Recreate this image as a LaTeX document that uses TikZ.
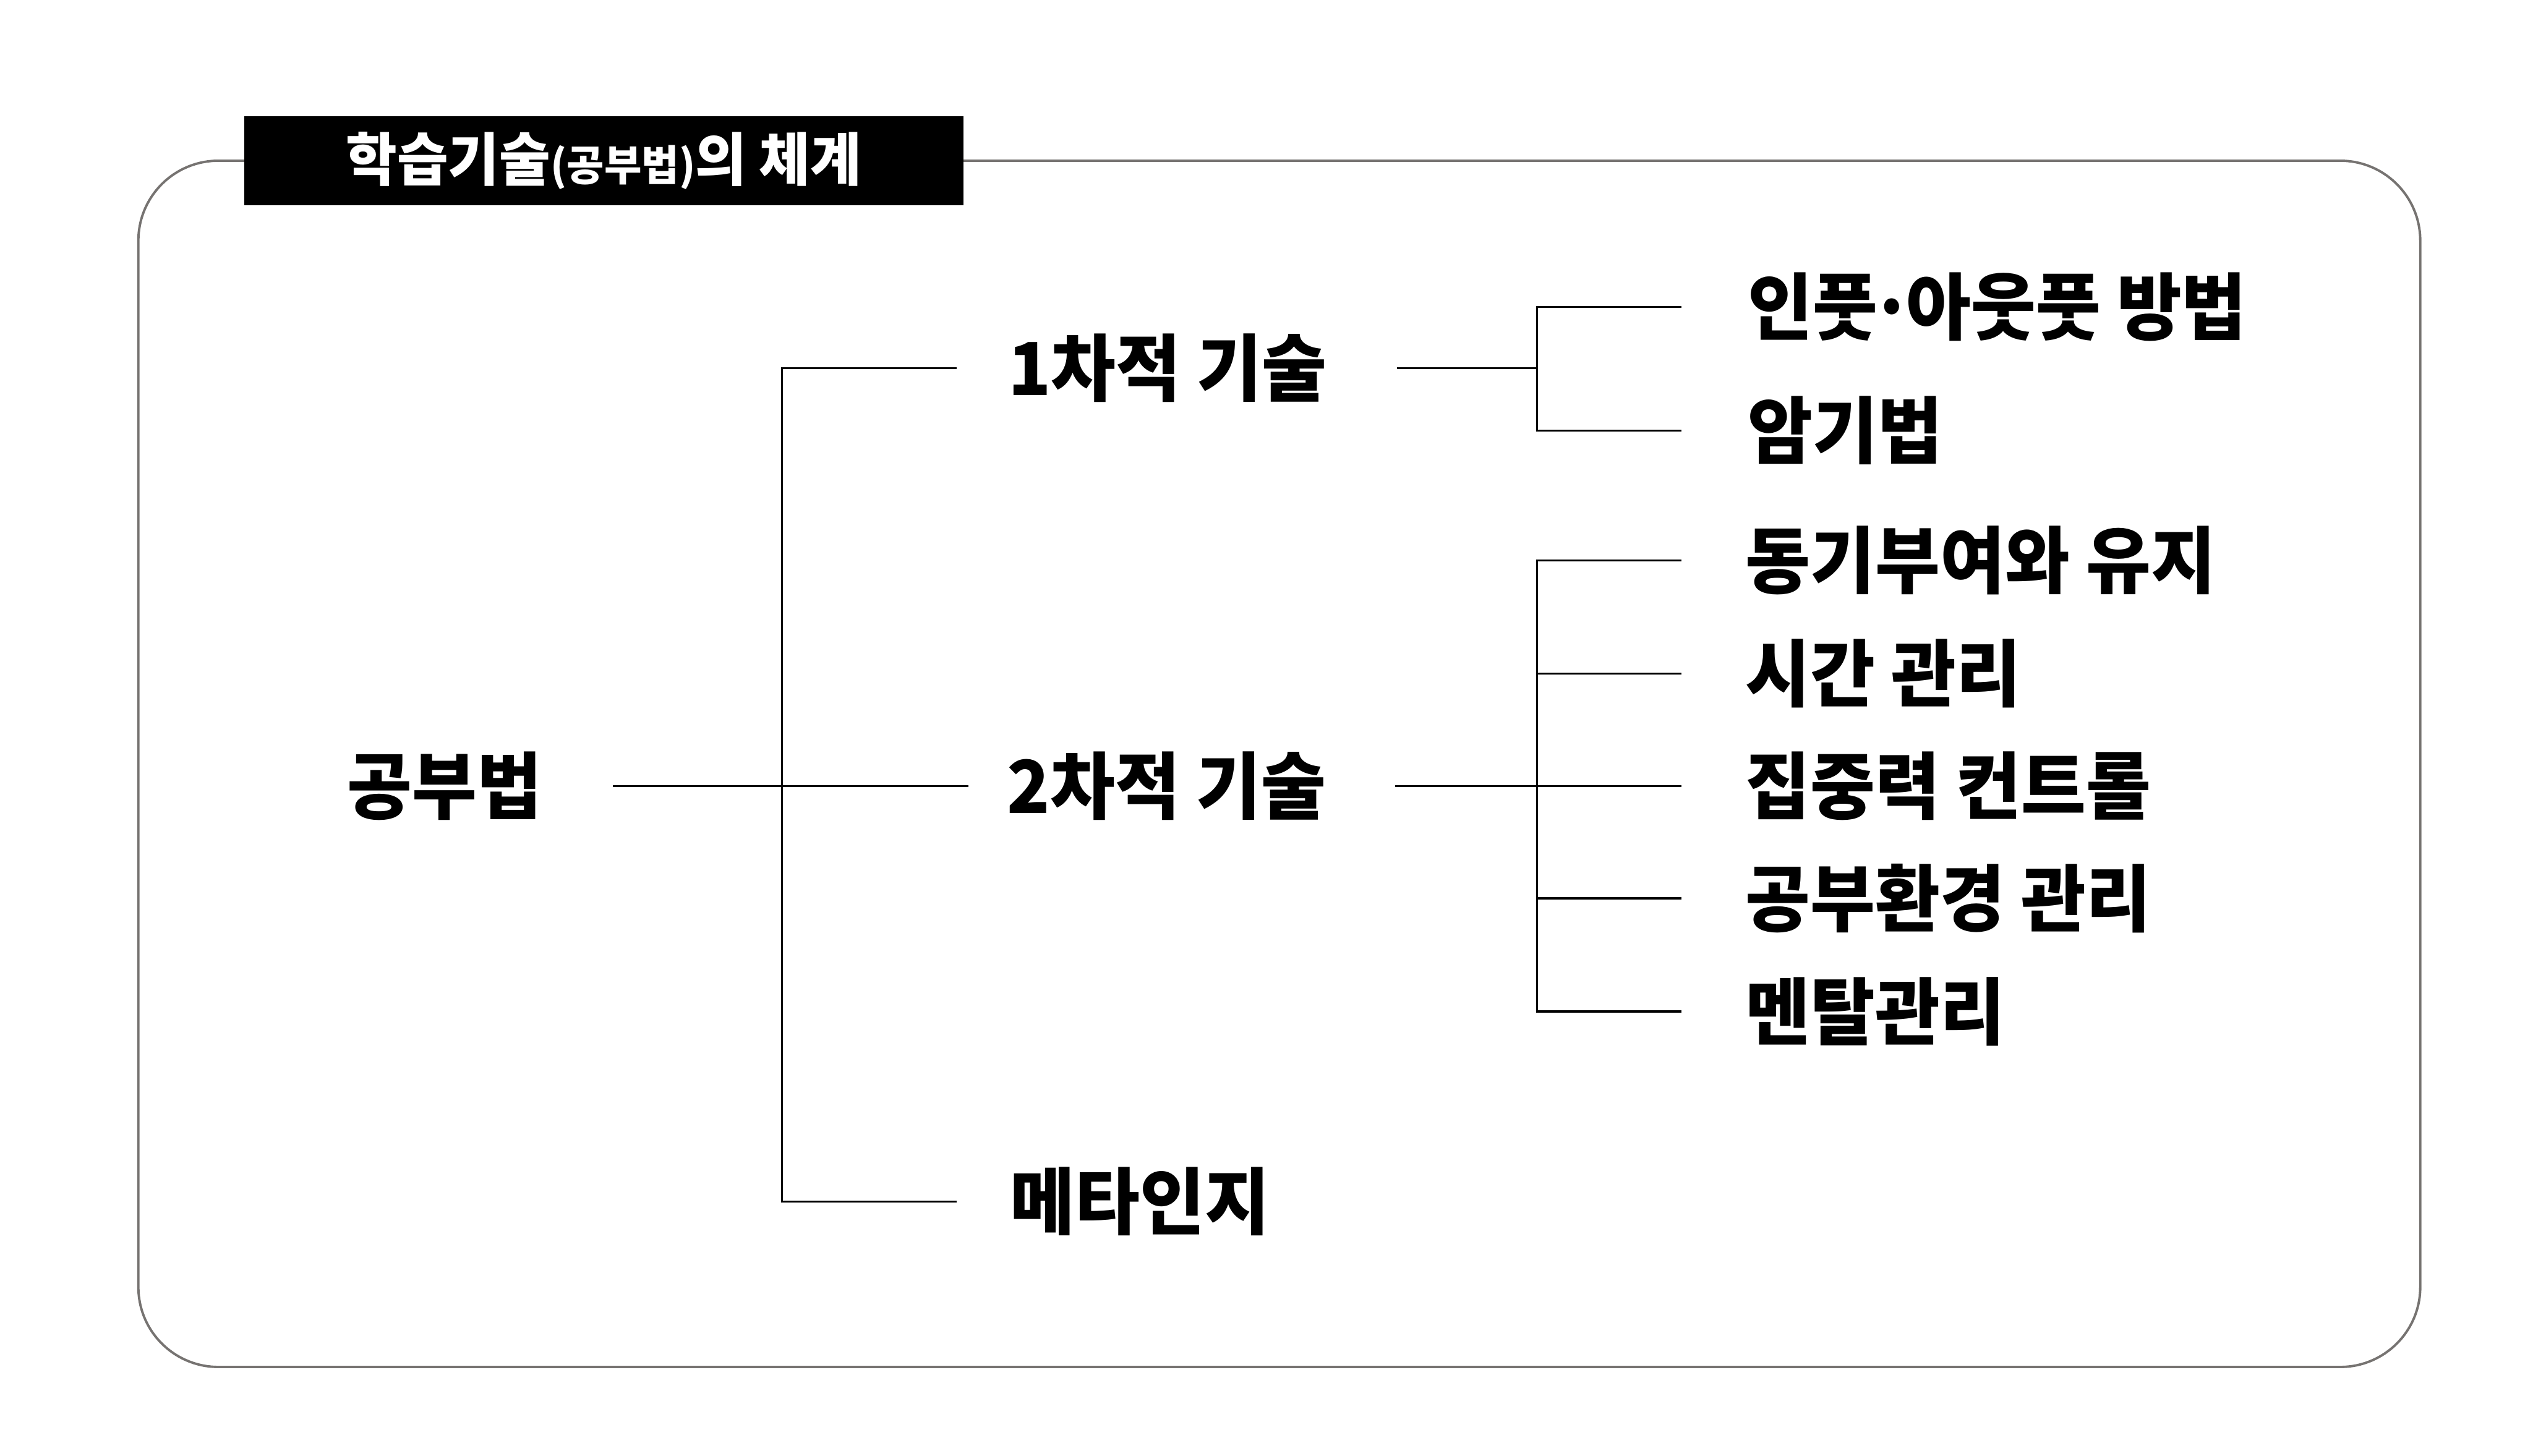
\documentclass[tikz,border=0pt]{standalone}
\usepackage{fontspec}
\setmainfont{Noto Sans CJK KR}[FakeStretch=0.965]
\usetikzlibrary{positioning}
\definecolor{framegray}{RGB}{118,115,113}

\begin{document}
\begin{tikzpicture}[label/.style={inner sep=0pt,anchor=west,font=\fontsize{52}{60}\selectfont\bfseries}, link/.style={line width=1.4pt}, frame/.style={draw=framegray,line width=1.7pt,rounded corners=2cm}]
  \useasboundingbox (0,0) rectangle (63.34,-36.41);
  \draw[frame] (3.46,-4.02) rectangle (60.52,-34.19);
  \node[fill=black,minimum width=17.98cm,minimum height=2.23cm,inner sep=0pt,text=white,font=\fontsize{41}{48}\selectfont\bfseries] (title) at (15.10,-4.025) {학습기술{\fontsize{30}{36}\selectfont(공부법)}의 체계};
  % tree
  \coordinate (trunk) at (19.56,-19.66);
  \coordinate (fork1) at (38.44,-9.21);
  \coordinate (fork2) at (38.44,-19.66);
  \node[label] (root) at (8.68,-19.66) {공부법};
  \node[label] (first) at (25.20,-9.21) {1차적 기술};
  \node[label] (second) at (25.18,-19.66) {2차적 기술};
  \node[label] (meta) at (25.25,-30.05) {메타인지};
  \node[label] (io) at (43.70,-7.68) {인풋\kern-.1em·\kern-.1em아웃풋 방법};
  \node[label] (memo) at (43.70,-10.77) {암기법};
  \node[label] (motiv) at (43.64,-14.02) {동기부여와 유지};
  \node[label] (time) at (43.64,-16.85) {시간 관리};
  \node[label] (focus) at (43.64,-19.66) {집중력 컨트롤};
  \node[label] (env) at (43.64,-22.47) {공부환경 관리};
  \node[label] (mental) at (43.64,-25.30) {멘탈관리};
  \draw[link] ([xshift=1.76cm]root.east) -- (trunk) -- ([xshift=-0.97cm]second.west);
  \draw[link] ([xshift=-1.28cm]first.west) -| (trunk) |- ([xshift=-1.33cm]meta.west);
  \draw[link] ([xshift=1.75cm]first.east) -- (fork1);
  \draw[link] ([xshift=-1.66cm]io.west) -| (fork1) |- ([xshift=-1.66cm]memo.west);
  \draw[link] ([xshift=1.73cm]second.east) -- (fork2);
  \draw[link] ([xshift=-1.60cm]motiv.west) -| (fork2) |- ([xshift=-1.60cm]mental.west);
  \foreach \n in {time,focus,env}
    \draw[link] (fork2 |- \n.west) -- ([xshift=-1.60cm]\n.west);
\end{tikzpicture}
\end{document}
